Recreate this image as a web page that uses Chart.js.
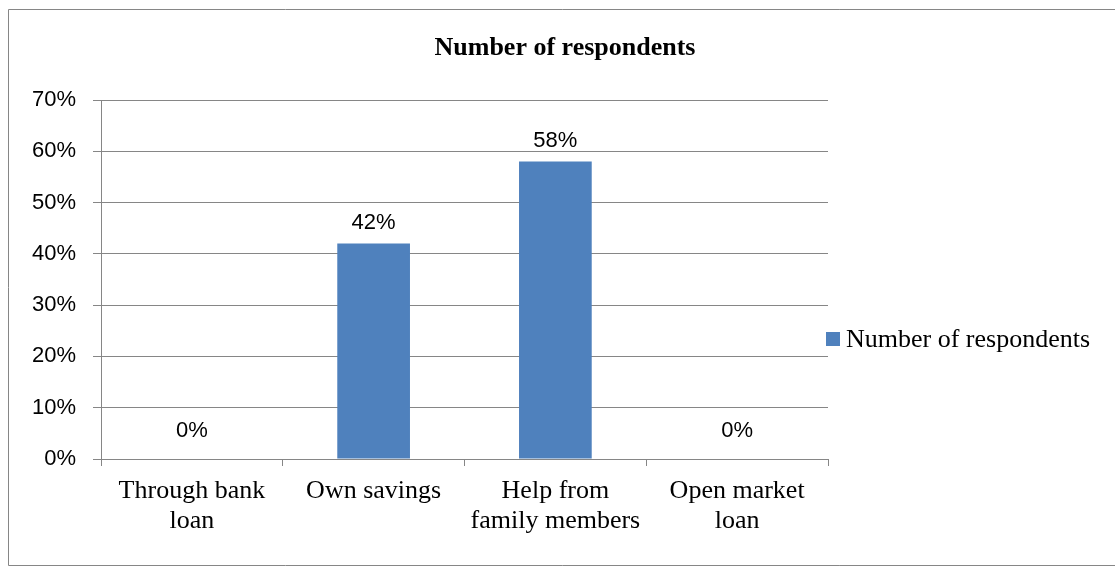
<!DOCTYPE html>
<html>
<head>
<meta charset="utf-8">
<title>Number of respondents</title>
<script src="https://cdn.jsdelivr.net/npm/chart.js@4/dist/chart.umd.min.js"></script>
<style>
    html, body { margin: 0; padding: 0; background: #ffffff; }
    canvas { display: block; }
</style>
</head>
<body>
<canvas id="respondents-chart" width="1115" height="567"></canvas>
<script>
// --- Data ---
const CATEGORIES = [
    ['Through bank', 'loan'],
    'Own savings',
    ['Help from', 'family members'],
    ['Open market', 'loan']
];
const RESPONDENT_SHARE = [0, 42, 58, 0];
const Y_TICKS = [0, 10, 20, 30, 40, 50, 60, 70];
const SERIES_LABEL = 'Number of respondents';
const CHART_TITLE = 'Number of respondents';

// --- Styles ---
const BAR_COLOR = '#4F81BD';
const LINE_COLOR = '#868686';
const SERIF = '"Liberation Serif", "Times New Roman", serif';
const SANS = '"Liberation Sans", Arial, sans-serif';

// Title, legend, value labels and the outer frame are drawn by hand (Excel-like placement)
const decorPlugin = {
    id: 'decor',
    afterDraw(chart) {
        const ctx = chart.ctx;
        ctx.save();

        // outer frame (right side runs off the picture)
        ctx.strokeStyle = LINE_COLOR;
        ctx.lineWidth = 1;
        ctx.beginPath();
        ctx.moveTo(chart.width + 2, 9.5);
        ctx.lineTo(8.5, 9.5);
        ctx.lineTo(8.5, 565.5);
        ctx.lineTo(chart.width + 2, 565.5);
        ctx.stroke();

        // title
        ctx.fillStyle = '#000000';
        ctx.font = `bold 26px ${SERIF}`;
        ctx.textAlign = 'center';
        ctx.textBaseline = 'alphabetic';
        ctx.fillText(CHART_TITLE, 565, 55);

        // value labels above bars
        ctx.font = `22px ${SANS}`;
        const meta = chart.getDatasetMeta(0);
        meta.data.forEach((bar, i) => {
            const v = RESPONDENT_SHARE[i];
            const gap = v === 0 ? 22 : 15;
            ctx.fillText(`${v}%`, bar.x, bar.y - gap);
        });

        // legend
        const ds = chart.data.datasets[0];
        ctx.fillStyle = ds.backgroundColor;
        ctx.fillRect(826, 332, 14, 14);
        ctx.fillStyle = '#000000';
        ctx.font = `26px ${SERIF}`;
        ctx.textAlign = 'left';
        ctx.fillText(ds.label, 846, 347);

        ctx.restore();
    }
};

const ctx = document.getElementById('respondents-chart').getContext('2d');

new Chart(ctx, {
    type: 'bar',
    data: {
        labels: CATEGORIES,
        datasets: [{
            label: SERIES_LABEL,
            data: RESPONDENT_SHARE,
            backgroundColor: BAR_COLOR,
            borderWidth: 0,
            categoryPercentage: 1.0,
            barPercentage: 0.4
        }]
    },
    options: {
        responsive: false,
        animation: false,
        layout: {
            padding: { left: 0, top: 100, right: 287, bottom: 0 }
        },
        plugins: {
            legend: { display: false },
            title: { display: false },
            tooltip: { enabled: false }
        },
        scales: {
            x: {
                afterFit: (scale) => { scale.height = 108; },
                grid: {
                    offset: true,
                    drawOnChartArea: false,
                    drawTicks: true,
                    tickLength: 7,
                    color: LINE_COLOR
                },
                border: { display: true, color: LINE_COLOR, width: 1 },
                ticks: {
                    color: '#000000',
                    padding: 11,
                    maxRotation: 0,
                    autoSkip: false,
                    font: { family: SERIF, size: 26, lineHeight: 1.12 }
                }
            },
            y: {
                min: Y_TICKS[0],
                max: Y_TICKS[Y_TICKS.length - 1],
                afterFit: (scale) => { scale.width = 101; },
                afterBuildTicks: (scale) => {
                    scale.ticks = Y_TICKS.map(v => ({ value: v }));
                },
                grid: {
                    color: LINE_COLOR,
                    tickLength: 8,
                    drawTicks: true
                },
                border: { display: true, color: LINE_COLOR, width: 1 },
                ticks: {
                    color: '#000000',
                    padding: 17,
                    font: { family: SANS, size: 22 },
                    callback: (value) => `${value}%`
                }
            }
        }
    },
    plugins: [decorPlugin]
});
</script>
</body>
</html>
